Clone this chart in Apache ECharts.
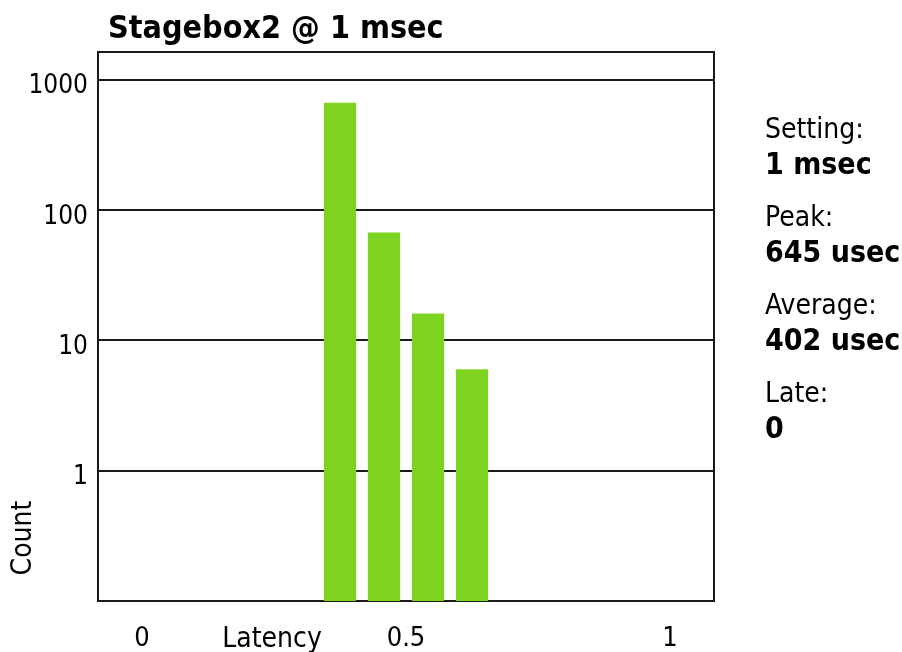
<!DOCTYPE html>
<html>
<head>
<meta charset="utf-8">
<script src="https://cdn.jsdelivr.net/npm/echarts@6/dist/echarts.min.js"></script>
<style>
  html, body { margin: 0; padding: 0; background: #fff; }
  #chart { width: 902px; height: 652px; }
</style>
</head>
<body>
<div id="chart"></div>
<script>
// Latency histogram: bin centres (msec) and sample counts per bin
const binCenters = [0.375, 0.4583, 0.5417, 0.625];
const counts = [663, 67, 16, 6];
const xTickValues = [0, 0.5, 1];
const yTickValues = [1, 10, 100, 1000];

const titleText = 'Stagebox2 @ 1 msec';
const statLabels = ['Setting:', 'Peak:', 'Average:', 'Late:'];
const statValues = ['1 msec', '645 usec', '402 usec', '0'];

const FONT = '"DejaVu Sans Condensed", "Liberation Sans", sans-serif';
const BAR_COLOR = '#7ed321';
const LINE_COLOR = '#1a1a1a';
const Y_MIN = 0.1;
const Y_MAX = 1624;
const BAR_HALF = 0.0305;

const chart = echarts.init(document.getElementById('chart'), null, { renderer: 'canvas' });

// side panel with run statistics
const statGraphics = [];
const statRows = [131, 219, 307, 395];
statLabels.forEach((lab, i) => {
  statGraphics.push({
    type: 'text', x: 765, y: statRows[i],
    style: { text: lab, font: '28px ' + FONT, fill: '#000', verticalAlign: 'middle' }
  });
  statGraphics.push({
    type: 'text', x: 765, y: statRows[i] + 35,
    style: { text: statValues[i], font: 'bold 30px ' + FONT, fill: '#000', verticalAlign: 'middle' }
  });
});

const option = {
  animation: false,
  backgroundColor: '#fff',
  grid: {
    left: 98, top: 52, right: 188, bottom: 49,
    show: true, borderColor: LINE_COLOR, borderWidth: 2, backgroundColor: 'transparent'
  },
  xAxis: {
    type: 'value',
    min: -1 / 12,
    max: 13 / 12,
    axisLine: { show: true, onZero: false, lineStyle: { color: LINE_COLOR, width: 2 } },
    axisTick: { show: false },
    splitLine: { show: false },
    axisLabel: {
      customValues: xTickValues,
      color: '#000',
      fontFamily: FONT,
      fontSize: 27,
      margin: 24,
      formatter: v => String(v)
    }
  },
  yAxis: {
    type: 'log',
    logBase: 10,
    min: Y_MIN,
    max: Y_MAX,
    axisLine: { show: true, onZero: false, lineStyle: { color: LINE_COLOR, width: 2 } },
    axisTick: { show: false },
    splitLine: {
      show: true, showMinLine: false, showMaxLine: false,
      lineStyle: { color: LINE_COLOR, width: 2 }
    },
    axisLabel: {
      customValues: yTickValues,
      color: '#000',
      fontFamily: FONT,
      fontSize: 26,
      margin: 10,
      formatter: v => '{n|' + Math.round(v) + '}',
      rich: {
        n: { fontFamily: FONT, fontSize: 26, color: '#000', padding: [14, 0, 0, 0] }
      }
    }
  },
  graphic: [
    {
      type: 'text', x: 108, y: 30,
      style: { text: titleText, font: 'bold 32px ' + FONT, fill: '#000', verticalAlign: 'middle' }
    },
    {
      type: 'text', x: 272, y: 640,
      style: { text: 'Latency', font: '28px ' + FONT, fill: '#000', align: 'center', verticalAlign: 'middle' }
    },
    {
      type: 'text', x: 24, y: 538, rotation: Math.PI / 2,
      style: { text: 'Count', font: '28px ' + FONT, fill: '#000', align: 'center', verticalAlign: 'middle' }
    }
  ].concat(statGraphics),
  series: [{
    type: 'custom',
    data: binCenters.map((x, i) => [x, counts[i]]),
    z: 10,
    renderItem: function (params, api) {
      const x = api.value(0);
      const y = api.value(1);
      const topLeft = api.coord([x - BAR_HALF, y]);
      const bottomRight = api.coord([x + BAR_HALF, Y_MIN]);
      return {
        type: 'rect',
        shape: {
          x: topLeft[0], y: topLeft[1],
          width: bottomRight[0] - topLeft[0],
          height: bottomRight[1] - topLeft[1]
        },
        style: { fill: BAR_COLOR }
      };
    }
  }]
};

chart.setOption(option);
</script>
</body>
</html>
